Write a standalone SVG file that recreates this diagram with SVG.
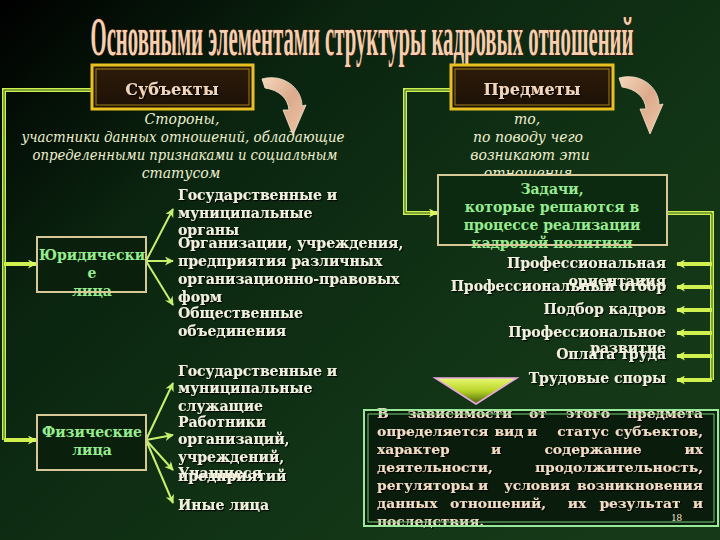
<svg xmlns="http://www.w3.org/2000/svg" width="720" height="540" viewBox="0 0 720 540">
<defs>
  <linearGradient id="bg" x1="0" y1="0" x2="1" y2="0.8">
    <stop offset="0" stop-color="#000000"/>
    <stop offset="0.3" stop-color="#0a240f"/>
    <stop offset="0.7" stop-color="#123416"/>
    <stop offset="1" stop-color="#163a18"/>
  </linearGradient>
  <linearGradient id="hdr" x1="0" y1="0" x2="0" y2="1">
    <stop offset="0" stop-color="#2e1c0a"/>
    <stop offset="1" stop-color="#1c1006"/>
  </linearGradient>
  <linearGradient id="curv" x1="0" y1="0" x2="1" y2="1">
    <stop offset="0" stop-color="#f4d8bc"/>
    <stop offset="0.5" stop-color="#dcaa8c"/>
    <stop offset="1" stop-color="#f0c8a8"/>
  </linearGradient>
  <linearGradient id="tri" x1="0" y1="0" x2="0" y2="1">
    <stop offset="0" stop-color="#e8f870"/>
    <stop offset="0.5" stop-color="#b8d428"/>
    <stop offset="1" stop-color="#4a6010"/>
  </linearGradient>
  <filter id="sh" x="-5%" y="-20%" width="110%" height="140%">
    <feDropShadow dx="1.2" dy="1.2" stdDeviation="0.4" flood-color="#000" flood-opacity="0.9"/>
  </filter>
  <marker id="ah" viewBox="0 0 10 10" refX="9" refY="5" markerWidth="11" markerHeight="9" markerUnits="userSpaceOnUse" orient="auto">
    <path d="M0,0 L10,5 L0,10 L3,5 Z" fill="#d8f860"/>
  </marker>
  <marker id="fh" viewBox="0 0 10 10" refX="9" refY="5" markerWidth="10" markerHeight="9" markerUnits="userSpaceOnUse" orient="auto">
    <path d="M0,0 L10,5 L0,10 L3,5 Z" fill="#c8f070"/>
  </marker>
  <path id="curved" d="M262,79 C283,73 302,88 302,106 L306,105 L293,135 L283,110 L289,110 C288,98 279,90 265,88 Z"/>
  <style>
    .ttl{font-family:"Liberation Serif","DejaVu Serif",serif;font-weight:bold;font-size:27px;fill:#f5cfae;stroke:#3a1a10;stroke-width:0.7px;paint-order:stroke}
    .hd{font-family:"DejaVu Serif","Liberation Serif",serif;font-weight:bold;font-size:16px;fill:#f2d6bc;text-anchor:middle}
    .it{font-family:"DejaVu Serif","Liberation Serif",serif;font-style:italic;font-size:14px;fill:#f0f0d0;text-anchor:middle}
    .b{font-family:"DejaVu Serif","Liberation Serif",serif;font-weight:bold;font-size:14px;fill:#f0f0dc}
    .g{font-family:"DejaVu Serif","Liberation Serif",serif;font-weight:bold;font-size:14px;fill:#98ec90;text-anchor:middle}
    .p{font-family:"DejaVu Serif","Liberation Serif",serif;font-weight:bold;font-size:13.8px;fill:#f2dcc4}
    .e{text-anchor:end}
    .m{text-anchor:middle}
    .conn{fill:none;stroke:#d0f050;stroke-width:4}
    .inner{fill:none;stroke:#2a5a1c;stroke-width:1}
    .fan{fill:none;stroke:#c8f070;stroke-width:2}
  </style>
</defs>

<rect width="720" height="540" fill="url(#bg)"/>

<g id="title">
  <text class="ttl" x="362" y="27.5" transform="scale(1,2)" text-anchor="middle" textLength="543" lengthAdjust="spacingAndGlyphs">Основными элементами структуры кадровых отношений</text>
</g>

<g id="connectors">
  <path class="conn" d="M92,90 H4 V440"/>
  <path class="inner" d="M92,90 H4 V440"/>
  <line class="conn" x1="4" y1="264" x2="36" y2="264" marker-end="url(#ah)"/>
  <line class="conn" x1="4" y1="440" x2="36" y2="440" marker-end="url(#ah)"/>
  <path class="conn" d="M451,90 H405 V213 H437" marker-end="url(#ah)"/>
  <path class="inner" d="M451,90 H405 V213 H430"/>
  <path class="conn" d="M667,213 H712 V380"/>
  <path class="inner" d="M667,213 H712 V380"/>
  <line class="conn" x1="712" y1="264" x2="677" y2="264" marker-end="url(#ah)"/>
  <line class="conn" x1="712" y1="287" x2="677" y2="287" marker-end="url(#ah)"/>
  <line class="conn" x1="712" y1="310" x2="677" y2="310" marker-end="url(#ah)"/>
  <line class="conn" x1="712" y1="333" x2="677" y2="333" marker-end="url(#ah)"/>
  <line class="conn" x1="712" y1="356" x2="677" y2="356" marker-end="url(#ah)"/>
  <line class="conn" x1="712" y1="380" x2="677" y2="380" marker-end="url(#ah)"/>
  <line class="fan" x1="146" y1="261" x2="173" y2="209" marker-end="url(#fh)"/>
  <line class="fan" x1="146" y1="261" x2="173" y2="261" marker-end="url(#fh)"/>
  <line class="fan" x1="146" y1="261" x2="173" y2="305" marker-end="url(#fh)"/>
  <line class="fan" x1="146" y1="440" x2="173" y2="383" marker-end="url(#fh)"/>
  <line class="fan" x1="146" y1="440" x2="173" y2="435" marker-end="url(#fh)"/>
  <line class="fan" x1="146" y1="440" x2="173" y2="470" marker-end="url(#fh)"/>
  <line class="fan" x1="146" y1="440" x2="173" y2="503" marker-end="url(#fh)"/>
</g>

<g id="subjects">
  <rect x="92" y="65" width="161" height="44" fill="url(#hdr)" stroke="#e8c020" stroke-width="3"/>
  <rect x="96" y="69" width="153" height="36" fill="none" stroke="#a08018" stroke-width="1"/>
  <text class="hd" x="172" y="95" filter="url(#sh)">Субъекты</text>
</g>

<g id="objects">
  <rect x="451" y="65" width="162" height="44" fill="url(#hdr)" stroke="#e8c020" stroke-width="3"/>
  <rect x="455" y="69" width="154" height="36" fill="none" stroke="#a08018" stroke-width="1"/>
  <text class="hd" x="532" y="95" filter="url(#sh)">Предметы</text>
</g>

<g id="curve-left">
  <use href="#curved" fill="url(#curv)" stroke="#f8e4cc" stroke-width="0.8"/>
</g>
<g id="curve-right">
  <use href="#curved" transform="translate(357,-1)" fill="url(#curv)" stroke="#f8e4cc" stroke-width="0.8"/>
</g>

<g id="subjects-desc">
  <text class="it" x="182" y="124">Стороны,</text>
  <text class="it" x="183" y="142" textLength="323" lengthAdjust="spacingAndGlyphs">участники данных отношений, обладающие</text>
  <text class="it" x="185" y="160" textLength="305" lengthAdjust="spacingAndGlyphs">определенными признаками и социальным</text>
  <text class="it" x="181" y="178">статусом</text>
</g>

<g id="objects-desc">
  <text class="it" x="527" y="124">то,</text>
  <text class="it" x="528" y="142">по поводу чего</text>
  <text class="it" x="530" y="160">возникают эти</text>
  <text class="it" x="528" y="178">отношения</text>
</g>

<g id="tasks">
  <rect x="438" y="175" width="229" height="70" fill="#0c2a10"/>
  <text class="g" x="552" y="194">Задачи,</text>
  <text class="g" x="552" y="212">которые решаются в</text>
  <text class="g" x="552" y="230">процессе реализации</text>
  <text class="g" x="552" y="248">кадровой политики</text>
  <rect x="438" y="175" width="229" height="70" fill="none" stroke="#d8c898" stroke-width="2"/>
</g>

<g id="tasks-list" filter="url(#sh)">
  <text class="b e" x="666" y="268">Профессиональная</text>
  <text class="b e" x="666" y="286">ориентация</text>
  <text class="b e" x="666" y="291">Профессиональный отбор</text>
  <text class="b e" x="666" y="314">Подбор кадров</text>
  <text class="b e" x="666" y="337">Профессиональное</text>
  <text class="b e" x="666" y="353">развитие</text>
  <text class="b e" x="666" y="359">Оплата труда</text>
  <text class="b e" x="666" y="383">Трудовые споры</text>
</g>

<g id="legal">
  <rect x="37" y="237" width="109" height="55" fill="#0a200c"/>
  <text class="g" x="92" y="260">Юридически</text>
  <text class="g" x="92" y="278">е</text>
  <text class="g" x="92" y="296">лица</text>
  <rect x="37" y="237" width="109" height="55" fill="none" stroke="#d8c898" stroke-width="2"/>
</g>

<g id="legal-list" filter="url(#sh)">
  <text class="b" x="178" y="200">Государственные и</text>
  <text class="b" x="178" y="218">муниципальные</text>
  <text class="b" x="178" y="235">органы</text>
  <text class="b" x="178" y="248">Организации, учреждения,</text>
  <text class="b" x="178" y="266">предприятия различных</text>
  <text class="b" x="178" y="284">организационно-правовых</text>
  <text class="b" x="178" y="302">форм</text>
  <text class="b" x="178" y="318">Общественные</text>
  <text class="b" x="178" y="336">объединения</text>
</g>

<g id="natural">
  <rect x="37" y="415" width="109" height="55" fill="#0a200c" stroke="#d8c898" stroke-width="2"/>
  <text class="g" x="92" y="437">Физические</text>
  <text class="g" x="92" y="455">лица</text>
</g>

<g id="natural-list" filter="url(#sh)">
  <text class="b" x="178" y="376">Государственные и</text>
  <text class="b" x="178" y="393">муниципальные</text>
  <text class="b" x="178" y="411">служащие</text>
  <text class="b" x="178" y="427">Работники</text>
  <text class="b" x="178" y="444">организаций,</text>
  <text class="b" x="178" y="462">учреждений,</text>
  <text class="b" x="178" y="478">Учащиеся</text>
  <text class="b" x="178" y="481">предприятий</text>
  <text class="b" x="178" y="510">Иные лица</text>
</g>

<g id="triangle">
  <polygon points="435,378 517,378 476,404" fill="url(#tri)" stroke="#e8a8e0" stroke-width="1.5"/>
</g>

<g id="note">
  <rect x="363" y="409" width="356" height="118" fill="#0a1c0c"/>
  <g filter="url(#sh)">
    <text class="p" x="377" y="418">В</text>
    <text class="p m" x="460" y="418">зависимости</text>
    <text class="p m" x="538" y="418">от</text>
    <text class="p m" x="588" y="418">этого</text>
    <text class="p e" x="703" y="418">предмета</text>
    <text class="p" x="377" y="436">определяется</text>
    <text class="p m" x="509" y="436">вид</text>
    <text class="p m" x="532" y="436">и</text>
    <text class="p m" x="583" y="436">статус</text>
    <text class="p e" x="703" y="436">субъектов,</text>
    <text class="p" x="377" y="454">характер</text>
    <text class="p m" x="496" y="454">и</text>
    <text class="p m" x="593" y="454">содержание</text>
    <text class="p e" x="703" y="454">их</text>
    <text class="p" x="377" y="472">деятельности,</text>
    <text class="p e" x="703" y="472">продолжительность,</text>
    <text class="p" x="377" y="490">регуляторы</text>
    <text class="p m" x="483" y="490">и</text>
    <text class="p m" x="537" y="490">условия</text>
    <text class="p e" x="703" y="490">возникновения</text>
    <text class="p" x="377" y="508">данных</text>
    <text class="p m" x="498" y="508">отношений,</text>
    <text class="p m" x="577" y="508">их</text>
    <text class="p m" x="640" y="508">результат</text>
    <text class="p e" x="703" y="508">и</text>
    <text class="p" x="377" y="526">последствия.</text>
  </g>
  <text x="671" y="521" font-family="Liberation Serif, serif" font-size="11" fill="#f0e0d0">18</text>
  <rect x="364" y="410" width="354" height="116" fill="none" stroke="#9ae89a" stroke-width="2"/>
  <rect x="368" y="414" width="346" height="108" fill="none" stroke="#78c878" stroke-width="1"/>
</g>
</svg>
